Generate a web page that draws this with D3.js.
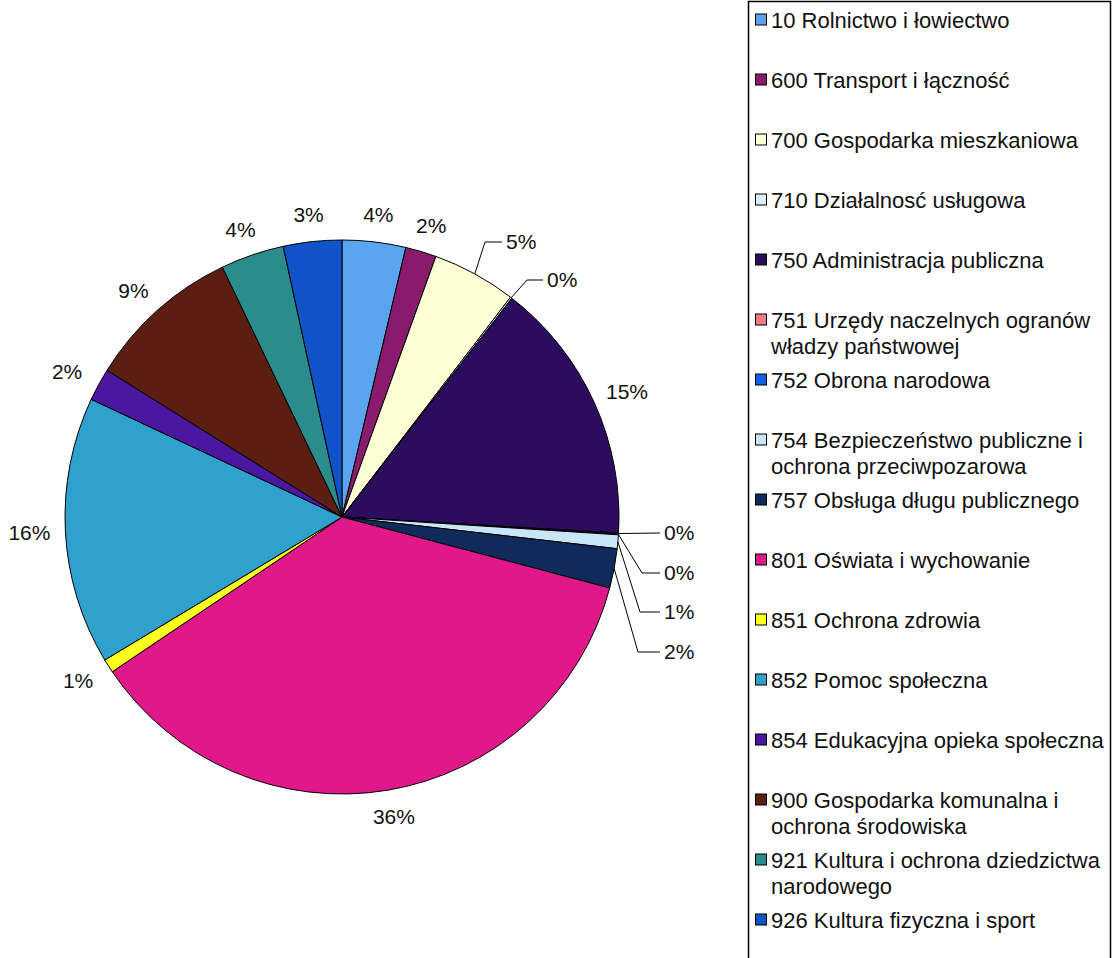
<!DOCTYPE html>
<html>
<head>
<meta charset="utf-8">
<script src="https://cdn.jsdelivr.net/npm/d3@7"></script>
<style>
  body { margin: 0; background: #fff; }
  svg { display: block; font-family: "Liberation Sans", Arial, sans-serif; }
</style>
</head>
<body>
<div id="chart"></div>
<script>
// Section codes, clockwise from 12 o'clock
const codes = ["10", "600", "700", "710", "750", "751", "752", "754", "757",
  "801", "851", "852", "854", "900", "921", "926"];

const names = [
  "10 Rolnictwo i łowiectwo",
  "600 Transport i łączność",
  "700 Gospodarka mieszkaniowa",
  "710 Działalnosć usługowa",
  "750 Administracja publiczna",
  "751 Urzędy naczelnych ogranów\nwładzy państwowej",
  "752 Obrona narodowa",
  "754 Bezpieczeństwo publiczne i\nochrona przeciwpozarowa",
  "757 Obsługa długu publicznego",
  "801 Oświata i wychowanie",
  "851 Ochrona zdrowia",
  "852 Pomoc społeczna",
  "854 Edukacyjna opieka społeczna",
  "900 Gospodarka komunalna i\nochrona środowiska",
  "921 Kultura i ochrona dziedzictwa\nnarodowego",
  "926 Kultura fizyczna i sport"
];

// share of expenditure, %
const shares = [3.7, 1.8, 4.9, 0.1, 15.4, 0.05, 0.05, 0.8, 2.3,
  36.4, 0.8, 15.6, 1.9, 9.0, 3.7, 3.4];

const colors = ["#5ba5f0", "#8a1a6e", "#ffffd6", "#d8f0f8", "#2c0c5c", "#f07c84",
  "#1060e8", "#c8e6f8", "#102a5c", "#e0188a", "#ffff20", "#30a0cc",
  "#4a18a0", "#5c1e10", "#2a8c8c", "#1052c8"];

const W = 1117, H = 958;
const cx = 342, cy = 517, r = 277;
const labelSize = 21, legendSize = 22;

const svg = d3.select("#chart").append("svg")
  .attr("width", W).attr("height", H);

const data = codes.map((c, i) => ({ code: c, name: names[i], value: shares[i], color: colors[i] }));
const total = d3.sum(data, d => d.value);

const pie = d3.pie().sort(null).value(d => d.value);
const arcs = pie(data);
const arc = d3.arc().innerRadius(0).outerRadius(r);

const g = svg.append("g").attr("transform", `translate(${cx},${cy})`);

g.selectAll("path.slice")
  .data(arcs)
  .enter()
  .append("path")
  .attr("class", "slice")
  .attr("d", arc)
  .attr("fill", d => d.data.color)
  .attr("stroke", "#000")
  .attr("stroke-width", 1);

const pct = d => Math.round(d.data.value / total * 100) + "%";
const mid = d => (d.startAngle + d.endAngle) / 2;

// labels moved away with a leader line (elbow offset from centre, end of line)
const leaders = {
  "700": { elbow: [143, -275], end: [160, -275] },
  "710": { elbow: [185, -237], end: [201, -237] },
  "751": { elbow: [r + 41, 16], end: [r + 41, 16], straight: true },
  "752": { elbow: [r + 23, 56], end: [r + 41, 56] },
  "754": { elbow: [r + 21, 95], end: [r + 41, 95] },
  "757": { elbow: [r + 19, 135], end: [r + 41, 135] }
};

const labelGap = 15, halfW = 21, halfH = 12;

arcs.forEach(d => {
  const a = mid(d);
  const s = Math.sin(a), c = Math.cos(a);
  const L = leaders[d.data.code];
  if (L) {
    const p0 = [r * s, -r * c];
    const pts = L.straight ? [p0, L.end] : [p0, L.elbow, L.end];
    g.append("path")
      .attr("d", d3.line()(pts))
      .attr("fill", "none")
      .attr("stroke", "#000")
      .attr("stroke-width", 1);
    g.append("text")
      .attr("x", L.end[0] + 4)
      .attr("y", L.end[1])
      .attr("dy", "0.35em")
      .attr("font-size", labelSize)
      .attr("fill", "#111")
      .text(pct(d));
  } else {
    const x = (r + labelGap) * s + s * halfW;
    const y = -(r + labelGap) * c - c * halfH;
    g.append("text")
      .attr("x", x)
      .attr("y", y)
      .attr("dy", "0.35em")
      .attr("text-anchor", "middle")
      .attr("font-size", labelSize)
      .attr("fill", "#111")
      .text(pct(d));
  }
});

// legend
const legend = svg.append("g");
legend.append("rect")
  .attr("x", 748.5).attr("y", 1.5)
  .attr("width", 362).attr("height", 980)
  .attr("fill", "#fff")
  .attr("stroke", "#000")
  .attr("stroke-width", 1.5);

const rowY = d3.scaleLinear().domain([0, 1]).range([20, 80]);
const item = legend.selectAll("g.item")
  .data(data)
  .enter()
  .append("g")
  .attr("class", "item")
  .attr("transform", (d, i) => `translate(0,${rowY(i)})`);

item.append("rect")
  .attr("x", 755.5).attr("y", -6)
  .attr("width", 11).attr("height", 11)
  .attr("fill", d => d.color)
  .attr("stroke", "#000")
  .attr("stroke-width", 1);

item.append("text")
  .attr("font-size", legendSize)
  .attr("fill", "#111")
  .each(function (d) {
    const t = d3.select(this);
    d.name.split("\n").forEach((line, k) => {
      t.append("tspan")
        .attr("x", 771)
        .attr("y", k * 26)
        .attr("dy", "0.35em")
        .text(line);
    });
  });
</script>
</body>
</html>
